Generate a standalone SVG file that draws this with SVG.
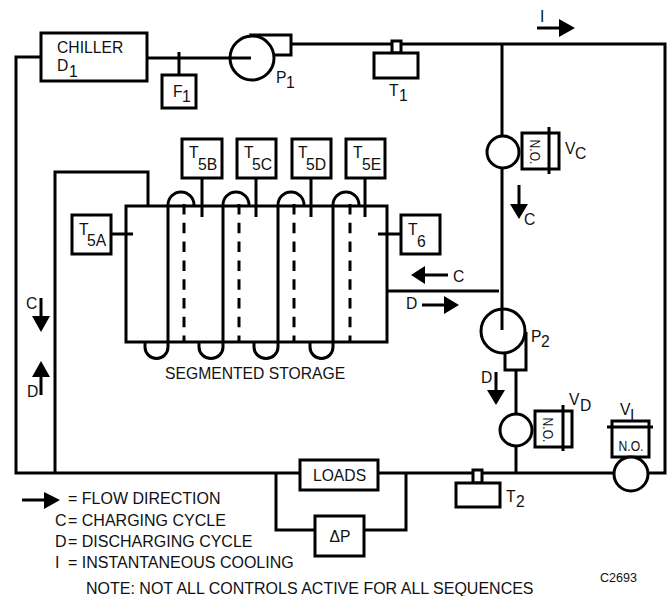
<svg xmlns="http://www.w3.org/2000/svg" width="670" height="596" viewBox="0 0 670 596">
<style>
.l{fill:none;stroke:#000;stroke-width:3}
.b{fill:#fff;stroke:#000;stroke-width:3}
.d{fill:none;stroke:#000;stroke-width:3;stroke-dasharray:10.5 8.3}
.a{fill:#000;stroke:none}
text{font-family:"Liberation Sans",Arial,sans-serif;font-size:15.7px;fill:#111}
.g{font-size:16px}
.no{font-size:14px}
</style>
<rect width="670" height="596" fill="#fff"/>
<g id="connectors">
<path class="l" d="M41 57H16V473H300M378 473H614M648 473H665V44H291M147 58H252M179 52V75"/>
<path class="l" d="M502 44V136M502 168V330M516 370V414M516 446V473M387 291H499"/>
<path class="l" d="M55 473V172H148V206M276 473V530H315M364 530H406V473"/>
<path class="l" d="M202 178V217M256 178V217M311 178V217M365 178V217M111 234H133M378 234H401"/>
<path class="d" d="M184 204V342M239 204V342M294 204V342M350 204V342"/>
<path class="l" d="M168 342V205A13 13 0 0 1 194 205M223 342V205A13 13 0 0 1 249 205M278 342V205A13 13 0 0 1 304 205M333 342V205A13 13 0 0 1 359 205"/>
<path class="l" d="M168 342V347A11.5 11.5 0 0 1 145 347V342M223 342V347A12 11.5 0 0 1 199 347V342M278 342V347A12 11.5 0 0 1 254 347V342M333 342V347A11.5 11.5 0 0 1 310 347V342"/>
</g>
<g id="flow-arrows">
<path class="a" d="M559 19L575 28L559 37ZM510 204H528L519 219ZM411 275L425 266V284ZM444 296L459 305L444 314ZM32 316H50L41 332ZM32 377H50L41 361ZM487 390H505L496 405ZM44 492L60 500L44 509Z"/>
<path class="l" d="M537 28H560M519 185V206M420 275H448M422 305H445M41 298V318M41 375V395M496 372V392M22 500H46"/>
</g>
<g id="storage"><rect class="l" x="126" y="206" width="261" height="136"/>
<text x="165" y="379">SEGMENTED STORAGE</text></g>
<g id="chiller"><rect class="b" x="41" y="33" width="106" height="48"/>
<text x="57" y="53">CHILLER</text><text x="57" y="71">D<tspan x="69" y="77">1</tspan></text></g>
<g id="f1"><rect class="b" x="162" y="75" width="34" height="33"/><text x="173" y="97">F<tspan x="182" y="102">1</tspan></text></g>
<g id="p1"><path class="b" d="M252 35H291V55H270Z"/><circle class="b" cx="252" cy="58" r="22"/><path class="l" d="M230 58H251"/><text x="276" y="83">P<tspan x="286" y="88">1</tspan></text></g>
<g id="t1"><rect class="b" x="392" y="41" width="9" height="12"/><rect class="b" x="374" y="53" width="44" height="25"/><text x="389" y="96">T<tspan x="399" y="101">1</tspan></text></g>
<g id="vc"><circle class="b" cx="503" cy="152" r="16"/><rect class="b" x="522" y="133" width="37" height="36"/><path class="l" d="M549 127V174"/><text class="no" transform="translate(529.5 152) rotate(90)" text-anchor="middle" textLength="25" lengthAdjust="spacingAndGlyphs">N.O.</text><text x="565" y="154">V<tspan x="575" y="159">C</tspan></text></g>
<g id="t5b"><rect class="b" x="182" y="139" width="40" height="39"/><text x="189" y="158">T<tspan x="198" y="170">5B</tspan></text></g>
<g id="t5c"><rect class="b" x="237" y="139" width="39" height="39"/><text x="244" y="158">T<tspan x="252" y="170">5C</tspan></text></g>
<g id="t5d"><rect class="b" x="292" y="139" width="39" height="39"/><text x="298" y="158">T<tspan x="306" y="170">5D</tspan></text></g>
<g id="t5e"><rect class="b" x="346" y="139" width="39" height="39"/><text x="353" y="158">T<tspan x="362" y="170">5E</tspan></text></g>
<g id="t5a"><rect class="b" x="72" y="215" width="39" height="39"/><text x="79" y="235">T<tspan x="87" y="246">5A</tspan></text></g>
<g id="t6"><rect class="b" x="401" y="215" width="39" height="39"/><text x="408" y="235">T<tspan x="417" y="247">6</tspan></text></g>
<g id="p2"><path class="b" d="M505 350V370H526V332"/><circle class="b" cx="503" cy="331" r="22"/><path class="l" d="M502 309V330"/><text x="531" y="342">P<tspan x="541" y="347">2</tspan></text></g>
<g id="vd"><circle class="b" cx="516" cy="430" r="16"/><rect class="b" x="535" y="411" width="37" height="36"/><path class="l" d="M563 405V451"/><text class="no" transform="translate(542.5 430) rotate(90)" text-anchor="middle" textLength="25" lengthAdjust="spacingAndGlyphs">N.O.</text><text x="569" y="405">V<tspan x="580" y="411">D</tspan></text></g>
<g id="vi"><rect class="b" x="612" y="421" width="37" height="36"/><path class="l" d="M607 427H653"/><circle class="b" cx="631" cy="474" r="17"/><text x="620" y="415">V<tspan x="630" y="421">I</tspan></text><text class="no" x="631" y="451" text-anchor="middle" textLength="25" lengthAdjust="spacingAndGlyphs">N.O.</text></g>
<g id="t2"><rect class="b" x="473" y="470" width="9" height="13"/><rect class="b" x="456" y="483" width="44" height="24"/><text x="506" y="502">T<tspan x="516" y="507">2</tspan></text></g>
<g id="loads"><rect class="b" x="300" y="460" width="78" height="30"/><text x="339.5" y="481" text-anchor="middle">LOADS</text></g>
<g id="dp"><rect class="b" x="315" y="516" width="49" height="40"/><text x="340" y="542" text-anchor="middle">ΔP</text></g>
<g id="labels">
<text x="540" y="22">I</text><text x="524" y="225">C</text>
<text x="453" y="282">C</text><text x="406" y="309">D</text>
<text x="26" y="309">C</text><text x="27" y="397">D</text><text x="481" y="383">D</text>
<text class="g" x="68" y="504">= FLOW DIRECTION</text>
<text class="g" x="55" y="526">C</text><text class="g" x="68" y="526">= CHARGING CYCLE</text>
<text class="g" x="55" y="547">D</text><text class="g" x="68" y="547">= DISCHARGING CYCLE</text>
<text class="g" x="55" y="568">I</text><text class="g" x="68" y="568">= INSTANTANEOUS COOLING</text>
<text class="g" x="86" y="594">NOTE: NOT ALL CONTROLS ACTIVE FOR ALL SEQUENCES</text>
<text x="600" y="582" style="font-size:12.5px">C2693</text>
</g>
</svg>
